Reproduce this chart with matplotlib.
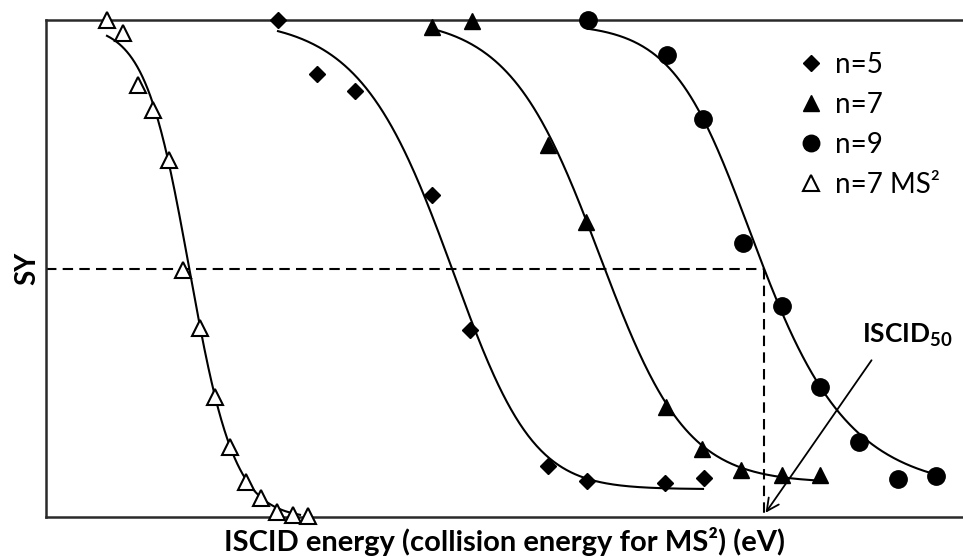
import numpy as np
import matplotlib
matplotlib.use("Agg")
import matplotlib.pyplot as plt

plt.rcParams['font.family'] = ['Lato', 'DejaVu Sans']
plt.rcParams['mathtext.fontset'] = 'custom'
plt.rcParams['mathtext.rm'] = 'Lato'
plt.rcParams['mathtext.bf'] = 'Lato:bold'

# measured points (energy in arbitrary units 0-100, SY in % of max)
ms2_x = [6.65, 8.40, 10.03, 11.67, 13.41, 14.94, 16.79, 18.43, 20.07, 21.81, 23.45, 25.19, 26.94, 28.57]
ms2_y = [100.0, 97.4, 86.9, 81.9, 71.8, 49.7, 38.0, 24.1, 14.1, 7.0, 3.8, 1.0, 0.4, 0.2]

n5_x = [25.30, 29.55, 33.70, 42.09, 46.24, 54.74, 59.00, 67.50, 71.76]
n5_y = [100.0, 89.1, 85.7, 64.8, 37.6, 10.3, 7.2, 6.8, 7.8]

n7_x = [42.09, 46.46, 54.74, 58.89, 67.61, 71.54, 75.79, 80.26, 84.41]
n7_y = [98.6, 99.8, 74.8, 59.4, 22.1, 13.7, 9.5, 8.5, 8.5]

n9_x = [59.11, 67.72, 71.65, 76.01, 80.26, 84.41, 88.66, 92.91, 97.06]
n9_y = [100.0, 93.0, 80.1, 55.1, 42.5, 26.2, 15.1, 7.6, 8.2]

# points
ms2_cx = [6.65, 10.03, 11.67, 13.52, 15.16, 16.79, 18.43, 20.07, 21.92, 24.10, 27.70]
ms2_cy = [97.4, 89.3, 82.5, 72.4, 53.7, 38.0, 24.1, 14.1, 7.4, 2.8, 0.8]
n5_cx = [25.30, 30.97, 35.33, 38.82, 41.88, 44.06, 46.46, 49.18, 52.78, 58.23, 71.65]
n5_cy = [98.0, 93.6, 84.5, 73.8, 64.4, 50.1, 37.6, 27.0, 16.1, 9.1, 5.4]
n7_cx = [42.20, 49.18, 52.78, 54.96, 59.11, 60.96, 64.78, 67.50, 71.32, 75.68, 80.37, 84.41]
n7_cy = [97.6, 92.6, 83.9, 74.4, 59.8, 50.1, 33.6, 22.1, 14.1, 10.5, 8.2, 7.2]
n9_cx = [59.11, 66.96, 71.65, 73.17, 78.08, 80.26, 84.41, 88.77, 97.16]
n9_cy = [98.0, 92.6, 80.1, 73.8, 50.1, 42.7, 27.0, 15.5, 8.5]

half_sy = 50.0


def fit_sigmoid(xs, ys):
    # Richards curve, grid search on shape, least squares for bottom/top
    xs = np.asarray(xs, float)
    ys = np.asarray(ys, float)
    x0g = np.linspace(xs.min(), xs.max(), 90)[:, None, None, None]
    wg = np.geomspace(0.5, 20, 60)[None, :, None, None]
    nug = np.geomspace(0.2, 6, 30)[None, None, :, None]
    g = (1 + np.exp((xs - x0g) / wg)) ** (-nug)
    n = xs.size
    sg = g.sum(-1)
    sgg = (g * g).sum(-1)
    syg = (g * ys).sum(-1)
    sy = ys.sum()
    with np.errstate(all='ignore'):
        det = n * sgg - sg ** 2
        a = (sy * sgg - sg * syg) / det
        c = (n * syg - sg * sy) / det
        res = ((a[..., None] + c[..., None] * g - ys) ** 2).sum(-1)
    i, j, k = np.unravel_index(np.nanargmin(res), res.shape)
    x0, w, nu = x0g[i, 0, 0, 0], wg[0, j, 0, 0], nug[0, 0, k, 0]
    aa, cc = a[i, j, k], c[i, j, k]
    xx = np.linspace(xs[0], xs[-1], 300)
    yy = aa + cc * (1 + np.exp((xx - x0) / w)) ** (-nu)
    return xx, yy


fig = plt.figure(figsize=(9.63, 5.57), dpi=100)
ax = fig.add_axes([46 / 963, 40 / 557, 917 / 963, 497 / 557])
ax.set_xlim(0, 100)
ax.set_ylim(0, 100)
ax.set_xticks([])
ax.set_yticks([])
for s in ['left', 'bottom', 'top']:
    ax.spines[s].set_linewidth(1.8)
    ax.spines[s].set_color('#2a2a2a')
ax.spines['right'].set_visible(False)

curves = {}
for key, cx, cy in [('ms2', ms2_cx, ms2_cy), ('n5', n5_cx, n5_cy),
                    ('n7', n7_cx, n7_cy), ('n9', n9_cx, n9_cy)]:
    xx, yy = fit_sigmoid(cx, cy)
    curves[key] = (xx, yy)
    ax.plot(xx, yy, color='black', lw=1.5, zorder=3)

ax.plot(n5_x, n5_y, ls='none', marker='D', ms=8.5, color='black',
        clip_on=False, zorder=5, label='n=5')
ax.plot(n7_x, n7_y, ls='none', marker='^', ms=12, color='black',
        clip_on=False, zorder=5, label='n=7')
ax.plot(n9_x, n9_y, ls='none', marker='o', ms=12.5, color='black',
        clip_on=False, zorder=5, label='n=9')
ax.plot(ms2_x, ms2_y, ls='none', marker='^', ms=12, mfc='white', mec='black',
        mew=1.5, clip_on=False, zorder=5, label='n=7 MS²')

# ISCID50 of n=9 curve
xx, yy = curves['n9']
x50 = np.interp(half_sy, yy[::-1], xx[::-1])
ax.plot([0, x50], [half_sy, half_sy], color='black', lw=1.5, ls=(0, (5, 3)), zorder=2)
ax.plot([x50, x50], [half_sy, 0], color='black', lw=1.5, ls=(0, (5, 3)), zorder=2)
ax.annotate('', xy=(x50, 0.4), xytext=(90.2, 32.0),
            arrowprops=dict(arrowstyle='->', lw=1.3, color='black', mutation_scale=22))
ax.text(93.9, 36.6, r'ISCID$_{\mathbf{50}}$', fontsize=19, fontweight='bold',
        ha='center', va='center')

ax.legend(loc='upper left', bbox_to_anchor=(800 / 963, 1 - 52 / 557),
          bbox_transform=fig.transFigure, frameon=False, fontsize=20,
          handlelength=0.8, handletextpad=0.45, labelspacing=0.5,
          borderpad=0, borderaxespad=0, markerscale=0.95)

ax.set_xlabel('ISCID energy (collision energy for MS²) (eV)', fontsize=21,
              fontweight='bold', labelpad=7)
ax.set_ylabel('SY', fontsize=20, fontweight='bold', labelpad=4)

fig.savefig('out.png', dpi=100, facecolor='white')
